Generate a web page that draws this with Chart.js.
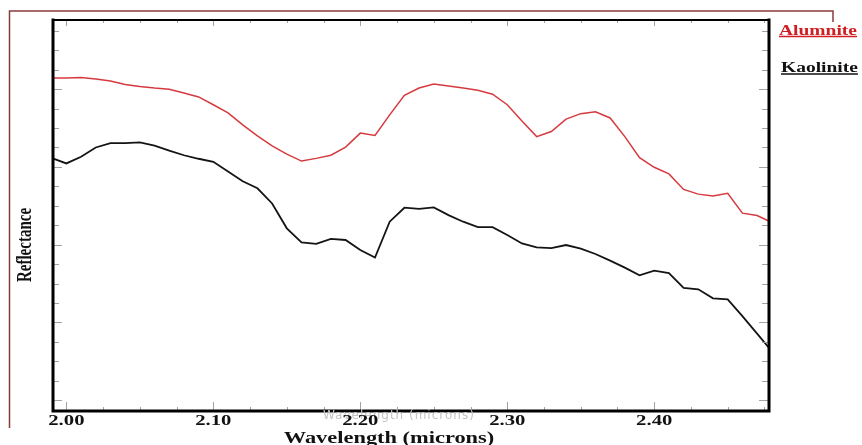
<!DOCTYPE html>
<html>
<head>
<meta charset="utf-8">
<script src="https://cdn.jsdelivr.net/npm/chart.js@4.4.1/dist/chart.umd.min.js"></script>
<style>
  html, body { margin: 0; padding: 0; background: #ffffff; }
  #wrap { width: 862px; height: 445px; }
</style>
</head>
<body>
<div id="wrap"><canvas id="c" width="862" height="445"></canvas></div>
<script>
// ---- data ----
const WAVELENGTH = [1.99, 2.00, 2.01, 2.02, 2.03, 2.04, 2.05, 2.06, 2.07, 2.08, 2.09,
  2.10, 2.11, 2.12, 2.13, 2.14, 2.15, 2.16, 2.17, 2.18, 2.19,
  2.20, 2.21, 2.22, 2.23, 2.24, 2.25, 2.26, 2.27, 2.28, 2.29,
  2.30, 2.31, 2.32, 2.33, 2.34, 2.35, 2.36, 2.37, 2.38, 2.39,
  2.40, 2.41, 2.42, 2.43, 2.44, 2.45, 2.46, 2.47, 2.48];

const ALUNITE = [0.829, 0.829, 0.830, 0.826, 0.821, 0.812, 0.807, 0.803, 0.800, 0.790, 0.780,
  0.760, 0.739, 0.708, 0.680, 0.654, 0.633, 0.615, 0.622, 0.630, 0.651,
  0.687, 0.681, 0.734, 0.784, 0.803, 0.813, 0.808, 0.803, 0.797, 0.787,
  0.760, 0.718, 0.678, 0.691, 0.723, 0.737, 0.742, 0.726, 0.678, 0.624,
  0.599, 0.582, 0.542, 0.530, 0.525, 0.532, 0.481, 0.475, 0.457];

const KAOLINITE = [0.623, 0.609, 0.626, 0.650, 0.661, 0.661, 0.663, 0.655, 0.642, 0.630, 0.621,
  0.613, 0.588, 0.563, 0.545, 0.506, 0.442, 0.406, 0.402, 0.415, 0.412,
  0.386, 0.367, 0.459, 0.495, 0.492, 0.496, 0.476, 0.459, 0.445, 0.445,
  0.425, 0.403, 0.393, 0.391, 0.399, 0.390, 0.376, 0.359, 0.341, 0.321,
  0.333, 0.327, 0.289, 0.285, 0.262, 0.259, 0.216, 0.171, 0.126];

const SERIES_NAMES = ['Alumnite', 'Kaolinite'];
const X_TICKS = [2.00, 2.10, 2.20, 2.30, 2.40];
const X_TICK_LABELS = ['2.00', '2.10', '2.20', '2.30', '2.40'];
const X_TITLE = 'Wavelength (microns)';
const Y_TITLE = 'Reflectance';
const X_MIN = 1.9909, X_MAX = 2.4781;
const Y_MIN = -0.028, Y_MAX = 0.978;
const X_MINOR_STEP = 0.025;
const Y_TICK_STEP = 0.05;

// ---- styling ----
const RED = '#d63a3f';
const RED_TEXT = '#cf1f24';
const BLACK = '#141414';
const SERIF = "'Liberation Serif', 'Times New Roman', serif";

function toPoints(ys) { return WAVELENGTH.map((x, i) => ({ x: x, y: ys[i] })); }

// draw text horizontally stretched (the reference image is widened)
function stretchedText(ctx, text, x, y, font, sx, align, color) {
  ctx.save();
  ctx.font = font;
  ctx.fillStyle = color;
  ctx.textBaseline = 'alphabetic';
  ctx.textAlign = 'left';
  const w = ctx.measureText(text).width * sx;
  let x0 = x;
  if (align === 'center') x0 = x - w / 2;
  else if (align === 'right') x0 = x - w;
  ctx.translate(x0, y);
  ctx.scale(sx, 1);
  ctx.fillText(text, 0, 0);
  ctx.restore();
  return { x0: x0, w: w };
}

const decor = {
  id: 'decor',
  beforeDraw(chart) {
    const ctx = chart.ctx;
    ctx.save();
    ctx.fillStyle = '#ffffff';
    ctx.fillRect(0, 0, chart.width, chart.height);
    ctx.restore();
  },
  afterDatasetsDraw(chart) {
    const ctx = chart.ctx, a = chart.chartArea;
    const xs = chart.scales.x, ys = chart.scales.y;
    ctx.save();
    // inward tick marks
    ctx.strokeStyle = '#a3a3a3';
    ctx.lineWidth = 1;
    ctx.beginPath();
    const nMinor = Math.round((X_MAX - 2.0) / X_MINOR_STEP);
    for (let k = 0; k <= nMinor; k++) {
      const v = 2.0 + k * X_MINOR_STEP;
      if (v > X_MAX) break;
      const px = Math.round(xs.getPixelForValue(v)) + 0.5;
      const major = (k % 4 === 0);
      ctx.moveTo(px, a.bottom); ctx.lineTo(px, a.bottom - (major ? 9 : 4));
      ctx.moveTo(px, a.top); ctx.lineTo(px, a.top + (major ? 6 : 3));
    }
    const nY = Math.floor(Y_MAX / Y_TICK_STEP);
    for (let k = 0; k <= nY; k++) {
      const v = k * Y_TICK_STEP;
      const py = Math.round(ys.getPixelForValue(v)) + 0.5;
      const lng = (k % 4 === 0);
      ctx.moveTo(a.left, py); ctx.lineTo(a.left + (lng ? 9 : 6), py);
      ctx.moveTo(a.right, py); ctx.lineTo(a.right - (lng ? 10 : 7), py);
    }
    ctx.stroke();
    // plot frame
    ctx.strokeStyle = '#000000';
    ctx.lineCap = 'square';
    ctx.lineWidth = 2;
    ctx.beginPath(); ctx.moveTo(a.left, a.top); ctx.lineTo(a.right, a.top); ctx.stroke();
    ctx.lineWidth = 3;
    ctx.beginPath();
    ctx.moveTo(a.left, a.top); ctx.lineTo(a.left, a.bottom);
    ctx.lineTo(a.right, a.bottom); ctx.lineTo(a.right, a.top);
    ctx.stroke();
    ctx.restore();
  },
  afterDraw(chart) {
    const ctx = chart.ctx, a = chart.chartArea;
    const xs = chart.scales.x;
    ctx.save();
    // outer figure frame
    ctx.strokeStyle = '#8c3b3b';
    ctx.lineWidth = 1.5;
    ctx.beginPath();
    ctx.moveTo(9.5, 428); ctx.lineTo(9.5, 11); ctx.lineTo(833, 11); ctx.lineTo(833, 22);
    ctx.stroke();

    // faint watermark axis text
    ctx.fillStyle = '#c4c4c4';
    ctx.font = "12px 'DejaVu Sans', sans-serif";
    ctx.letterSpacing = '1px';
    ctx.textAlign = 'left';
    ctx.textBaseline = 'middle';
    ctx.fillText(X_TITLE, 323, 416);
    ctx.letterSpacing = '0px';

    // x tick labels, positioned by the x scale
    X_TICKS.forEach((v, i) => {
      stretchedText(ctx, X_TICK_LABELS[i], xs.getPixelForValue(v), 425,
        'bold 15px ' + SERIF, 1.38, 'center', '#111111');
    });

    // x title
    stretchedText(ctx, X_TITLE, 389, 443, 'bold 16px ' + SERIF, 1.4, 'center', '#111111');

    // y title (glyphs widened along the page's horizontal axis)
    ctx.save();
    ctx.translate(26, 245);
    ctx.rotate(-Math.PI / 2);
    ctx.scale(1, 1.35);
    ctx.font = 'bold 15px ' + SERIF;
    ctx.fillStyle = '#111111';
    ctx.textAlign = 'center';
    ctx.textBaseline = 'middle';
    ctx.fillText(Y_TITLE, 0, 0);
    ctx.restore();

    // legend (underlined labels)
    chart.data.datasets.forEach((ds, i) => {
      const x0 = a.right + 10 + i * 2;
      const yb = i === 0 ? 34.5 : 72;
      const r = stretchedText(ctx, ds.label, x0, yb, 'bold 15px ' + SERIF, 1.3, 'left', ds.legendTextColor);
      ctx.strokeStyle = ds.legendTextColor;
      ctx.lineWidth = 1.5;
      ctx.beginPath();
      ctx.moveTo(r.x0, yb + 2); ctx.lineTo(r.x0 + r.w, yb + 2);
      ctx.stroke();
    });
    ctx.restore();
  }
};

new Chart(document.getElementById('c'), {
  type: 'line',
  data: {
    datasets: [
      { label: SERIES_NAMES[0], data: toPoints(ALUNITE), borderColor: RED, borderWidth: 1.5,
        legendTextColor: RED_TEXT, pointRadius: 0, tension: 0, fill: false },
      { label: SERIES_NAMES[1], data: toPoints(KAOLINITE), borderColor: BLACK, borderWidth: 1.8,
        legendTextColor: '#111111', pointRadius: 0, tension: 0, fill: false }
    ]
  },
  options: {
    responsive: false,
    devicePixelRatio: 1,
    animation: false,
    events: [],
    layout: { padding: { left: 0, top: 20, right: 93, bottom: 0 } },
    plugins: { legend: { display: false }, tooltip: { enabled: false }, title: { display: false } },
    scales: {
      x: {
        type: 'linear', min: X_MIN, max: X_MAX,
        afterFit(s) { s.height = 34; },
        afterBuildTicks(s) { s.ticks = X_TICKS.map(v => ({ value: v })); },
        grid: { display: false, drawTicks: false },
        border: { display: false },
        ticks: { display: false }
      },
      y: {
        type: 'linear', min: Y_MIN, max: Y_MAX,
        afterFit(s) { s.width = 53; },
        grid: { display: false, drawTicks: false },
        border: { display: false },
        ticks: { display: false }
      }
    }
  },
  plugins: [decor]
});
</script>
</body>
</html>
